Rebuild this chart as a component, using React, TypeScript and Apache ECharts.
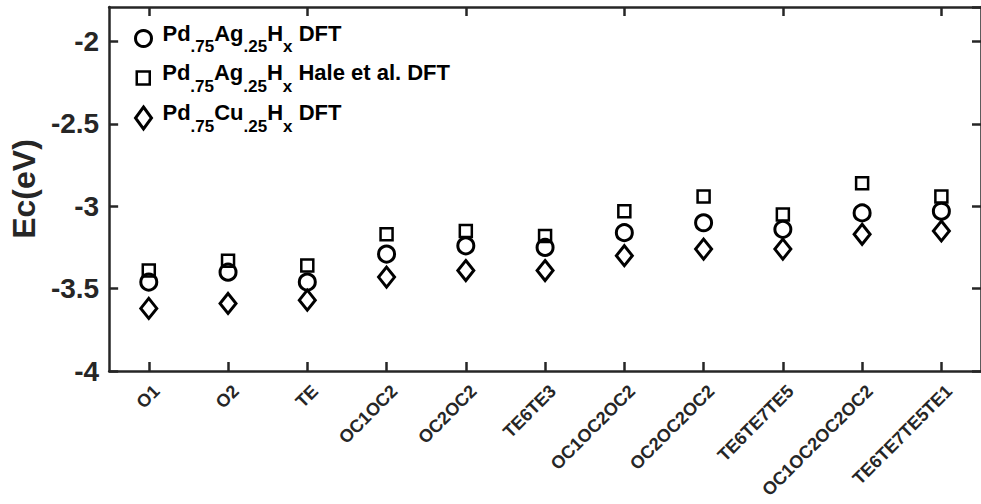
import React, { useEffect, useRef } from "react";
import * as echarts from "echarts";

// Hydrogen configurations along the x axis
const categories = [
  "O1",
  "O2",
  "TE",
  "OC1OC2",
  "OC2OC2",
  "TE6TE3",
  "OC1OC2OC2",
  "OC2OC2OC2",
  "TE6TE7TE5",
  "OC1OC2OC2OC2",
  "TE6TE7TE5TE1",
];

// Ec (eV) per configuration
const pdAgDft = [-3.46, -3.40, -3.46, -3.29, -3.24, -3.25, -3.16, -3.10, -3.14, -3.04, -3.03];
const pdAgHale = [-3.39, -3.33, -3.36, -3.17, -3.15, -3.18, -3.03, -2.94, -3.05, -2.86, -2.94];
const pdCuDft = [-3.62, -3.59, -3.57, -3.43, -3.39, -3.39, -3.30, -3.26, -3.26, -3.17, -3.15];

const yTicks = { min: -4, max: -1.79, step: 0.5 };

const seriesNames = ["PdAg DFT", "PdAg Hale DFT", "PdCu DFT"];
const legendTexts = [
  "{m|Pd}{s|.75}{m|Ag}{s|.25}{m|H}{s|x}{m| DFT}",
  "{m|Pd}{s|.75}{m|Ag}{s|.25}{m|H}{s|x}{m| Hale et al. DFT}",
  "{m|Pd}{s|.75}{m|Cu}{s|.25}{m|H}{s|x}{m| DFT}",
];

const FONT = "'Liberation Sans', Arial, Helvetica, sans-serif";
const AXIS_COLOR = "#262626";

const markerStyle = (w: number) => ({
  color: "transparent",
  borderColor: "#000",
  borderWidth: w,
  opacity: 1,
});

function makeLegend(
  idx: number,
  icon: string,
  left: number,
  top: number,
  iw: number,
  ih: number,
  border: number,
  spacer: number
) {
  return {
    data: [{ name: seriesNames[idx], icon }],
    orient: "vertical",
    left,
    top,
    padding: 0,
    itemWidth: iw,
    itemHeight: ih,
    selectedMode: false,
    itemStyle: markerStyle(border),
    formatter: () => "{g| }" + legendTexts[idx],
    textStyle: {
      rich: {
        g: { width: spacer, lineHeight: 33, fontSize: 8 },
        m: {
          fontFamily: FONT,
          fontWeight: "bold",
          fontSize: 22,
          color: "#000",
          lineHeight: 24,
          verticalAlign: "top",
        },
        s: {
          fontFamily: FONT,
          fontWeight: "bold",
          fontSize: 17,
          color: "#000",
          lineHeight: 17,
          verticalAlign: "bottom",
        },
      },
    },
  };
}

export default function App() {
  const ref = useRef<HTMLDivElement>(null);

  useEffect(() => {
    if (!ref.current) return;
    const chart = echarts.init(ref.current, null, { renderer: "svg" });

    const axisLine = { show: true, lineStyle: { color: AXIS_COLOR, width: 2.5 } };
    const axisTick = {
      show: true,
      inside: true,
      length: 9,
      lineStyle: { color: AXIS_COLOR, width: 2.5 },
    };

    chart.setOption({
      animation: false,
      backgroundColor: "#fff",
      grid: { left: 107, top: 7, width: 880, height: 364, containLabel: false },
      legend: [
        makeLegend(0, "circle", 134, 22, 16, 16, 3, 6),
        makeLegend(1, "rect", 135.5, 61.5, 13, 13, 2.5, 7.5),
        makeLegend(2, "diamond", 134, 101.5, 16, 22, 3, 6),
      ],
      xAxis: [
        {
          type: "category",
          data: categories,
          position: "bottom",
          boundaryGap: true,
          axisLine,
          axisTick: { ...axisTick, alignWithLabel: true },
          splitLine: { show: false },
          axisLabel: {
            interval: 0,
            rotate: 45,
            margin: 25,
            padding: [0, -11, 0, 0],
            fontFamily: FONT,
            fontWeight: "bold",
            fontSize: 18,
            color: AXIS_COLOR,
          },
        },
        {
          type: "category",
          data: categories,
          position: "top",
          boundaryGap: true,
          axisLine,
          axisTick: { ...axisTick, alignWithLabel: true },
          splitLine: { show: false },
          axisLabel: { show: false },
        },
      ],
      yAxis: [
        {
          type: "value",
          position: "left",
          min: yTicks.min,
          max: yTicks.max,
          interval: yTicks.step,
          axisLine,
          axisTick,
          splitLine: { show: false },
          axisLabel: {
            showMaxLabel: false,
            margin: 10,
            fontFamily: FONT,
            fontWeight: "bold",
            fontSize: 28,
            color: AXIS_COLOR,
          },
          name: "Ec(eV)",
          nameLocation: "middle",
          nameGap: 64,
          nameTextStyle: {
            fontFamily: FONT,
            fontWeight: "bold",
            fontSize: 32,
            color: AXIS_COLOR,
          },
        },
        {
          type: "value",
          position: "right",
          min: yTicks.min,
          max: yTicks.max,
          interval: yTicks.step,
          axisLine,
          axisTick,
          splitLine: { show: false },
          axisLabel: { show: false },
        },
      ],
      series: [
        {
          name: seriesNames[0],
          type: "scatter",
          symbol: "circle",
          symbolSize: 16,
          itemStyle: markerStyle(3),
          data: pdAgDft,
          silent: true,
        },
        {
          name: seriesNames[1],
          type: "scatter",
          symbol: "rect",
          symbolSize: 12,
          itemStyle: markerStyle(2.5),
          data: pdAgHale,
          silent: true,
        },
        {
          name: seriesNames[2],
          type: "scatter",
          symbol: "diamond",
          symbolSize: [16, 20],
          itemStyle: markerStyle(3),
          data: pdCuDft,
          silent: true,
        },
      ],
    });

    return () => chart.dispose();
  }, []);

  return (
    <div
      ref={ref}
      style={{ position: "fixed", left: 0, top: 0, width: 981, height: 504, background: "#fff" }}
    />
  );
}
